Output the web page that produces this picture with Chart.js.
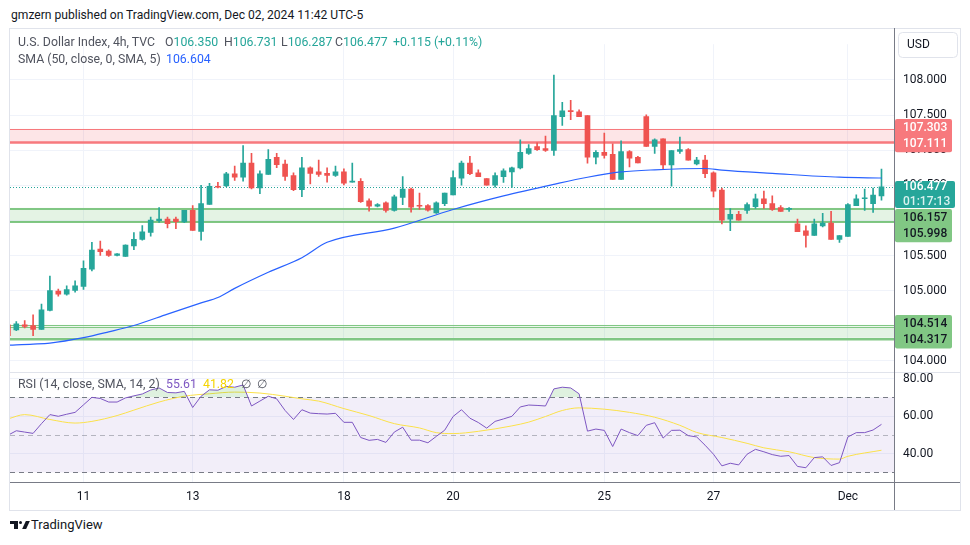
<!DOCTYPE html>
<html>
<head>
<meta charset="utf-8">
<script src="https://cdn.jsdelivr.net/npm/chart.js@4.4.1/dist/chart.umd.min.js"></script>
<style>
body{margin:0;background:#fff;width:970px;height:545px;overflow:hidden;position:relative;font-family:Roboto,"Noto Sans",sans-serif}
#wrap{position:absolute;left:9px;top:28px;width:952px;height:483px}
.t{position:absolute;white-space:nowrap;font-size:12.3px;line-height:16px;color:#131722}
.g{color:#50535e}
.up{color:#26a69a}
.logo{position:absolute;background:#131722}
</style>
</head>
<body>
<div class="t" style="left:11px;top:7px;font-size:12.1px">gmzern published on TradingView.com, Dec 02, 2024 11:42 UTC-5</div>
<div id="wrap"><canvas id="chart" width="952" height="483"></canvas></div>
<div id="legend"></div>
<div class="logo" style="left:10px;top:521px;width:8px;height:3px"></div>
<div class="logo" style="left:14px;top:521px;width:4px;height:8px"></div>
<div class="logo" style="left:19px;top:521px;width:3px;height:3px;border-radius:2px"></div>
<div class="logo" style="left:24px;top:521px;width:4px;height:8px;transform:skewX(-25deg)"></div>
<div class="t" style="left:31px;top:517px;font-size:13px">TradingView</div>
<script>
'use strict';

// candles, 4h, index 0 is the bar cut off at the left edge
const opens = [104.514, 104.440, 104.514, 104.504, 104.449, 104.720, 104.995, 104.949, 105.004, 105.060,
	105.307, 105.592, 105.564, 105.500, 105.486, 105.637, 105.729, 105.830, 105.995, 106.018,
	106.018, 105.977, 106.142, 105.844, 106.229, 106.486, 106.491, 106.665, 106.615, 106.816,
	106.463, 106.656, 106.899, 106.803, 106.638, 106.436, 106.748, 106.693, 106.670, 106.642,
	106.693, 106.546, 106.555, 106.280, 106.202, 106.252, 106.142, 106.326, 106.445, 106.211,
	106.211, 106.106, 106.238, 106.362, 106.601, 106.816, 106.679, 106.596, 106.500, 106.624,
	106.692, 106.748, 106.954, 107.050, 107.023, 106.995, 107.477, 107.559, 107.546, 107.491,
	106.899, 106.968, 106.940, 106.582, 106.981, 106.899, 107.477, 107.055, 107.161, 106.789,
	106.982, 107.009, 106.803, 106.858, 106.679, 106.431, 106.019, 106.087, 106.142, 106.197,
	106.308, 106.239, 106.184, 106.156, 105.950, 105.853, 105.785, 105.922, 105.963, 105.730,
	105.771, 106.211, 106.308, 106.239, 106.350];
const highs = [104.530, 104.560, 104.573, 104.656, 104.807, 105.206, 105.023, 105.069, 105.138, 105.426,
	105.688, 105.706, 105.582, 105.527, 105.651, 105.826, 105.926, 106.046, 106.183, 106.046,
	106.046, 106.142, 106.211, 106.500, 106.527, 106.541, 106.683, 106.775, 107.064, 106.954,
	106.706, 107.009, 106.954, 106.858, 106.679, 106.899, 106.762, 106.858, 106.748, 106.775,
	106.734, 106.816, 106.596, 106.307, 106.238, 106.266, 106.362, 106.624, 106.459, 106.390,
	106.225, 106.266, 106.390, 106.706, 106.844, 106.913, 106.720, 106.596, 106.679, 106.734,
	106.761, 107.147, 107.078, 107.105, 107.202, 108.069, 107.683, 107.711, 107.573, 107.491,
	106.995, 107.243, 107.092, 107.133, 106.995, 106.913, 107.505, 107.161, 107.161, 106.996,
	107.188, 107.023, 106.899, 106.927, 106.693, 106.459, 106.170, 106.128, 106.252, 106.376,
	106.418, 106.349, 106.211, 106.184, 106.019, 105.922, 106.019, 106.101, 106.129, 105.785,
	106.239, 106.363, 106.445, 106.459, 106.731];
const lows = [104.350, 104.431, 104.468, 104.358, 104.449, 104.711, 104.922, 104.936, 104.977, 105.018,
	105.280, 105.500, 105.486, 105.495, 105.486, 105.582, 105.720, 105.775, 105.972, 105.894,
	105.881, 105.968, 105.858, 105.720, 106.229, 106.463, 106.482, 106.569, 106.560, 106.449,
	106.381, 106.656, 106.752, 106.569, 106.422, 106.339, 106.518, 106.628, 106.546, 106.628,
	106.505, 106.546, 106.257, 106.133, 106.192, 106.119, 106.133, 106.225, 106.119, 106.156,
	106.133, 106.101, 106.211, 106.362, 106.500, 106.651, 106.624, 106.500, 106.472, 106.541,
	106.468, 106.734, 106.940, 106.995, 106.981, 106.926, 107.353, 107.435, 107.477, 106.816,
	106.803, 106.885, 106.582, 106.582, 106.761, 106.817, 107.055, 106.954, 106.734, 106.486,
	106.954, 106.858, 106.789, 106.610, 106.335, 105.950, 105.853, 106.005, 106.101, 106.170,
	106.170, 106.142, 106.129, 106.129, 105.840, 105.620, 105.785, 105.909, 105.730, 105.688,
	105.771, 106.211, 106.143, 106.115, 106.287];
const closes = [104.358, 104.527, 104.491, 104.449, 104.725, 105.000, 104.949, 105.014, 105.069, 105.316,
	105.578, 105.555, 105.500, 105.523, 105.647, 105.729, 105.839, 106.004, 106.018, 105.954,
	105.981, 106.142, 105.858, 106.238, 106.486, 106.472, 106.665, 106.615, 106.816, 106.463,
	106.665, 106.871, 106.794, 106.628, 106.436, 106.748, 106.670, 106.656, 106.642, 106.693,
	106.532, 106.555, 106.266, 106.202, 106.225, 106.142, 106.335, 106.445, 106.188, 106.202,
	106.147, 106.252, 106.390, 106.610, 106.816, 106.665, 106.624, 106.500, 106.637, 106.706,
	106.748, 106.968, 107.023, 107.009, 106.995, 107.491, 107.559, 107.550, 107.477, 106.899,
	106.968, 106.926, 106.582, 106.981, 106.885, 106.817, 107.055, 107.147, 106.789, 106.996,
	107.009, 106.858, 106.858, 106.665, 106.418, 106.005, 106.087, 106.005, 106.225, 106.308,
	106.239, 106.156, 106.129, 106.166, 105.840, 105.785, 105.950, 105.963, 105.730, 105.785,
	106.225, 106.308, 106.318, 106.362, 106.477];

// SMA 50 (bar index, value)
const smaIdx = [0, 3, 5, 9, 12, 15, 19, 23, 25, 27, 31, 35, 38, 46, 53, 59, 65, 69, 73, 77, 83, 85, 91, 99, 104];
const smaVals = [104.224, 104.238, 104.252, 104.330, 104.413, 104.504, 104.665, 104.826, 104.903, 105.032,
	105.261, 105.468, 105.688, 105.890, 106.156, 106.349, 106.514, 106.615, 106.690, 106.720,
	106.739, 106.716, 106.670, 106.615, 106.604];

// RSI 14, one value per bar
const rsiVals = [49.8, 52.2, 51.5, 50.8, 56.0, 60.8, 59.9, 61.0, 62.0, 66.0,
	70.0, 69.4, 67.5, 67.5, 69.7, 70.8, 71.8, 73.9, 75.0, 72.6,
	72.4, 73.2, 64.6, 70.6, 74.0, 73.8, 75.8, 75.4, 76.6, 65.4,
	68.0, 70.6, 69.2, 63.0, 58.2, 63.4, 61.6, 61.3, 61.1, 61.5,
	56.7, 56.7, 48.6, 47.1, 47.6, 46.0, 51.5, 54.1, 47.2, 47.2,
	45.8, 49.2, 52.5, 59.8, 63.4, 58.9, 56.6, 53.6, 57.2, 58.5,
	59.9, 64.9, 65.9, 65.7, 65.4, 74.5, 75.4, 75.0, 71.9, 52.0,
	53.1, 52.4, 43.8, 53.1, 51.2, 49.6, 55.1, 56.5, 48.3, 52.4,
	52.5, 49.6, 48.9, 44.5, 39.7, 33.5, 34.9, 34.0, 39.7, 42.3,
	41.0, 39.5, 38.6, 39.0, 33.2, 32.5, 37.9, 38.3, 33.7, 35.2,
	48.9, 51.2, 51.2, 52.6, 55.61];

// RSI based SMA 14 (yellow)
const rsiMaIdx = [0, 2, 5, 8, 10, 13, 15, 18, 21, 24, 27, 30, 33, 35, 37, 40, 43, 46, 49, 51,
	53, 56, 60, 62, 64, 66, 68, 71, 74, 77, 80, 82, 85, 88, 90, 93, 96, 99, 100, 104];
const rsiMaVals = [58.5, 60.8, 58.2, 56.3, 57.2, 60.3, 63.2, 67.5, 70.6, 71.9, 72.8, 72.3, 70.6, 69.2, 68.0, 64.0, 60.3, 56.0, 53.7, 51.2,
	50.7, 51.9, 54.8, 56.8, 59.8, 63.0, 64.4, 63.7, 62.0, 59.4, 55.1, 51.3, 48.6, 45.5, 43.1, 41.0, 37.9, 37.1, 38.6, 41.82];

const timeIdx = [9, 22, 40, 53, 71, 84, 100];
const timeLabels = ['11', '13', '18', '20', '25', '27', 'Dec'];
const priceTicks = [104.0, 104.5, 105.0, 105.5, 106.0, 106.5, 107.0, 107.5, 108.0];
const rsiTicks = [40, 60, 80];
const rsiLevels = [70, 50, 30];

// drawn zones
const zoneTop = [107.303, 106.180, 106.157, 104.514, 104.487];
const zoneBottom = [107.111, 105.998, 105.977, 104.330, 104.317];
const zoneKind = ['red', 'green', 'green', 'green', 'green'];
// axis label pairs
const tagHigh = [107.303, 106.157, 104.514];
const tagLow = [107.111, 105.998, 104.317];
const tagKind = ['red', 'green', 'green'];
const countdown = '01:17:13';

const UP = '#26a69a';
const DOWN = '#ef5350';
const GRID = '#f0f3fa';
const LINE = '#787b86';
const TXT = '#131722';
const FONT = 'Roboto, "Noto Sans", sans-serif';
const zoneFill = {red: 'rgba(242,54,69,0.13)', green: 'rgba(76,175,80,0.08)'};
const zoneLine = {red: '#f7797d', green: '#81c784'};
const zoneEdge = [2.5, 1, 1, 1.2, 2];

const last = closes.length - 1;
const colors = closes.map((c, i) => c >= opens[i] ? UP : DOWN);

// legend text
(function() {
	const chg = closes[last] - closes[last - 1];
	const parts = [
		[18, 34, '<span class="g">U.S. Dollar Index, 4h, TVC</span>'],
		[165, 34, '<span class="g">O</span><span class="up">' + opens[last].toFixed(3) + '</span>'],
		[224, 34, '<span class="g">H</span><span class="up">' + highs[last].toFixed(3) + '</span>'],
		[281, 34, '<span class="g">L</span><span class="up">' + lows[last].toFixed(3) + '</span>'],
		[335, 34, '<span class="g">C</span><span class="up">' + closes[last].toFixed(3) + '</span>'],
		[393, 34, '<span class="up">+' + chg.toFixed(3) + ' (+' + (chg / closes[last - 1] * 100).toFixed(2) + '%)</span>'],
		[18, 51, '<span class="g">SMA (50, close, 0, SMA, 5)</span>'],
		[166, 51, '<span style="color:#2962ff">' + smaVals[smaVals.length - 1].toFixed(3) + '</span>'],
		[18, 376, '<span class="g">RSI (14, close, SMA, 14, 2)</span>'],
		[166, 376, '<span style="color:#7e57c2">' + rsiVals[last].toFixed(2) + '</span>'],
		[203, 376, '<span style="color:#f5d400">' + rsiMaVals[rsiMaVals.length - 1].toFixed(2) + '</span>'],
		[241, 376, '<span class="g">∅</span>'],
		[257, 376, '<span class="g">∅</span>']
	];
	let html = '';
	parts.forEach(p => {
		html += '<div class="t" style="left:' + p[0] + 'px;top:' + p[1] + 'px">' + p[2] + '</div>';
	});
	document.getElementById('legend').innerHTML = html;
})();

function box(ctx, x, y, w, h, fill) {
	ctx.fillStyle = fill;
	ctx.beginPath();
	ctx.roundRect(x, y, w, h, 2);
	ctx.fill();
}

const panes = {
	id: 'panes',
	beforeDatasetsDraw(chart) {
		const {ctx, chartArea: a, scales: {y, yr}} = chart;
		ctx.save();
		// rsi background band and levels
		const p70 = yr.getPixelForValue(rsiLevels[0]);
		const p30 = yr.getPixelForValue(rsiLevels[2]);
		ctx.fillStyle = 'rgba(126,87,194,0.1)';
		ctx.fillRect(a.left, p70, a.width, p30 - p70);
		rsiLevels.forEach((lv, k) => {
			const py = Math.round(yr.getPixelForValue(lv)) + 0.5;
			ctx.strokeStyle = k === 1 ? 'rgba(120,123,134,0.5)' : LINE;
			ctx.lineWidth = 1;
			ctx.setLineDash([5, 4]);
			ctx.beginPath();
			ctx.moveTo(a.left, py);
			ctx.lineTo(a.right, py);
			ctx.stroke();
		});
		ctx.setLineDash([]);
		// zones
		zoneTop.forEach((t, k) => {
			const y1 = y.getPixelForValue(t), y2 = y.getPixelForValue(zoneBottom[k]);
			ctx.fillStyle = zoneFill[zoneKind[k]];
			ctx.fillRect(a.left, y1, a.width, y2 - y1);
			ctx.strokeStyle = zoneLine[zoneKind[k]];
			ctx.lineWidth = 1;
			ctx.beginPath();
			ctx.moveTo(a.left, Math.round(y1) + 0.5);
			ctx.lineTo(a.right, Math.round(y1) + 0.5);
			ctx.stroke();
			ctx.lineWidth = zoneEdge[k];
			ctx.beginPath();
			ctx.moveTo(a.left, Math.round(y2) + 0.5);
			ctx.lineTo(a.right, Math.round(y2) + 0.5);
			ctx.stroke();
		});
		// last price line
		const lp = Math.round(y.getPixelForValue(closes[last])) + 0.5;
		ctx.strokeStyle = UP;
		ctx.lineWidth = 1;
		ctx.setLineDash([1, 2]);
		ctx.beginPath();
		ctx.moveTo(a.left, lp);
		ctx.lineTo(a.right, lp);
		ctx.stroke();
		ctx.restore();
	},
	afterDraw(chart) {
		const {ctx, chartArea: a, scales: {y}} = chart;
		const W = chart.width, H = chart.height;
		ctx.save();
		// frame and separators
		ctx.lineWidth = 1;
		ctx.strokeStyle = '#e0e3eb';
		ctx.strokeRect(0.5, 0.5, W - 1, H - 1);
		ctx.beginPath();
		ctx.moveTo(a.left, Math.round(y.bottom) + 0.5);
		ctx.lineTo(W, Math.round(y.bottom) + 0.5);
		ctx.stroke();
		ctx.strokeStyle = LINE;
		ctx.beginPath();
		ctx.moveTo(a.left, Math.round(a.bottom) + 0.5);
		ctx.lineTo(W - 1, Math.round(a.bottom) + 0.5);
		ctx.moveTo(Math.round(a.right) + 0.5, 0);
		ctx.lineTo(Math.round(a.right) + 0.5, H - 1);
		ctx.stroke();

		// USD box
		ctx.fillStyle = '#fff';
		ctx.strokeStyle = '#e0e3eb';
		ctx.beginPath();
		ctx.roundRect(a.right + 4.5, 4.5, 59, 25, 4);
		ctx.fill();
		ctx.stroke();
		ctx.font = '12px ' + FONT;
		ctx.fillStyle = TXT;
		ctx.textBaseline = 'middle';
		ctx.fillText('USD', a.right + 13, 17);

		// value tags on the price axis
		const bx = a.right + 1;
		const rowH = 16.7;
		const lpY = y.getPixelForValue(closes[last]);
		const curTop = lpY - 6, curBot = lpY + 21;
		let prevBottom = -99;
		const tags = tagHigh.map((hv, k) => ({hi: hv, lo: tagLow[k], kind: tagKind[k]}));
		ctx.font = '500 12px ' + FONT;
		tags.forEach(t => {
			const mid = (y.getPixelForValue(t.hi) + y.getPixelForValue(t.lo)) / 2;
			let top = mid - rowH;
			if (top < curBot && top + 2 * rowH > curTop) top = curBot + 1;
			top = Math.max(top, prevBottom + 1);
			prevBottom = top + 2 * rowH;
			box(ctx, bx, top, 57, 2 * rowH, t.kind === 'red' ? '#f7797d' : '#81c784');
			ctx.fillStyle = t.kind === 'red' ? '#fff' : TXT;
			ctx.fillText(t.hi.toFixed(3), bx + 8, top + rowH / 2 + 0.5);
			ctx.fillText(t.lo.toFixed(3), bx + 8, top + rowH * 1.5);
		});
		box(ctx, bx, curTop, 60, curBot - curTop, UP);
		ctx.fillStyle = '#fff';
		ctx.fillText(closes[last].toFixed(3), bx + 8, lpY + 0.5);
		ctx.fillStyle = '#d9f2ef';
		ctx.fillText(countdown, bx + 8, lpY + 15);
		ctx.restore();
	}
};

const tickFont = {family: FONT, size: 12};

const config = {
	type: 'bar',
	data: {
		datasets: [
			{
				type: 'line',
				data: smaIdx.map((v, i) => ({x: v, y: smaVals[i]})),
				borderColor: '#2962ff',
				borderWidth: 1.2,
				pointRadius: 0,
				cubicInterpolationMode: 'monotone',
				yAxisID: 'y',
				order: 0
			},
			{
				data: opens.map((o, i) => ({x: i, y: [Math.min(o, closes[i]), Math.max(o, closes[i])]})),
				backgroundColor: colors,
				barThickness: 5,
				minBarLength: 1,
				grouped: false,
				yAxisID: 'y',
				order: 1
			},
			{
				data: lows.map((l, i) => ({x: i, y: [l, highs[i]]})),
				backgroundColor: colors,
				barThickness: 1,
				grouped: false,
				yAxisID: 'y',
				order: 2
			},
			{
				type: 'line',
				data: rsiVals.map((v, i) => ({x: i, y: v})),
				borderColor: '#7e57c2',
				borderWidth: 1,
				pointRadius: 0,
				tension: 0,
				fill: {target: {value: 70}, above: 'rgba(76,175,80,0.18)', below: 'rgba(0,0,0,0)'},
				yAxisID: 'yr',
				order: 3
			},
			{
				type: 'line',
				data: rsiMaIdx.map((v, i) => ({x: v, y: rsiMaVals[i]})),
				borderColor: '#fbe14a',
				borderWidth: 1,
				pointRadius: 0,
				cubicInterpolationMode: 'monotone',
				yAxisID: 'yr',
				order: 4
			}
		]
	},
	options: {
		responsive: false,
		animation: false,
		events: [],
		layout: {padding: {left: 1, top: 1, right: 1, bottom: 1}},
		plugins: {legend: {display: false}, tooltip: {enabled: false}},
		scales: {
			x: {
				type: 'linear',
				min: 0.25,
				max: 105.49,
				offset: false,
				grid: {color: GRID, offset: false, drawTicks: false},
				border: {display: false},
				afterBuildTicks: s => { s.ticks = timeIdx.map(v => ({value: v})); },
				afterFit: s => { s.height = 28; },
				ticks: {
					autoSkip: false,
					maxRotation: 0,
					padding: 8,
					color: TXT,
					font: tickFont,
					callback: (v, i) => timeLabels[i]
				}
			},
			y: {
				type: 'linear',
				position: 'right',
				stack: 'pane',
				stackWeight: 339,
				weight: 1,
				min: 103.844,
				max: 108.509,
				grid: {color: GRID, drawTicks: false},
				border: {display: false},
				afterBuildTicks: s => { s.ticks = priceTicks.map(v => ({value: v})); },
				afterFit: s => { s.width = 66; },
				ticks: {padding: 9, color: TXT, font: tickFont, callback: v => v.toFixed(3)}
			},
			yr: {
				type: 'linear',
				position: 'right',
				stack: 'pane',
				stackWeight: 114,
				weight: 2,
				min: 24.9,
				max: 83.6,
				grid: {color: GRID, drawTicks: false},
				border: {display: false},
				afterBuildTicks: s => { s.ticks = rsiTicks.map(v => ({value: v})); },
				afterFit: s => { s.width = 66; },
				ticks: {padding: 9, color: TXT, font: tickFont, callback: v => v.toFixed(2)}
			}
		}
	},
	plugins: [panes]
};

window.addEventListener('load', function() {
	const ctx = document.getElementById('chart').getContext('2d');
	new Chart(ctx, config);
}, false);
</script>
</body>
</html>
